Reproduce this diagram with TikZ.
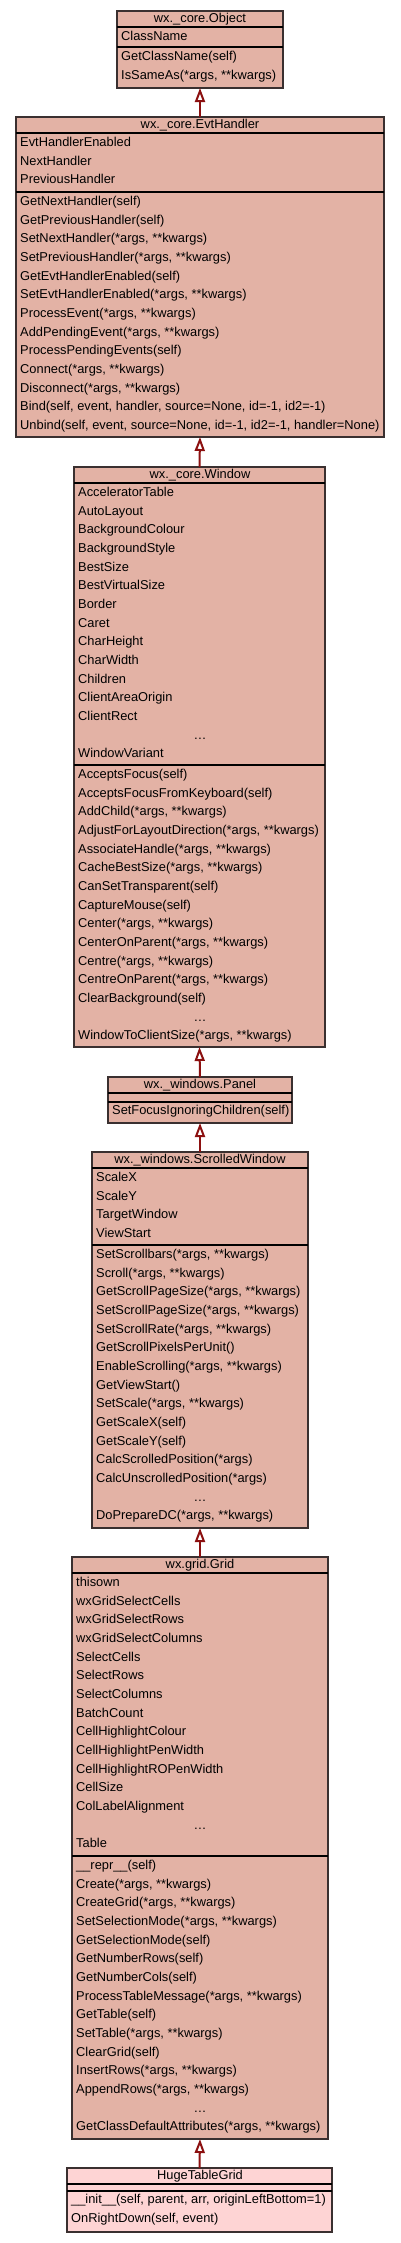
\documentclass[tikz,border=0pt]{standalone}
\usepackage{fontspec}
\setmainfont{Liberation Sans}
\usetikzlibrary{arrows.meta}
\definecolor{clsfill}{RGB}{227,178,165}
\definecolor{leaffill}{RGB}{254,212,212}
\definecolor{clsedge}{RGB}{58,48,48}
\definecolor{inhcol}{RGB}{140,16,16}
\newcommand\rowfont{\fontsize{12.85}{14}\selectfont}
\newcommand\rowsat[5]{%
  \foreach \t [count=\k from #4] in {#5}{%
    \node[rowtxt] (#1\k) at (#2, {#3+13.5+18.67*(\k-1)}) {\t};}}
\begin{document}
\begin{tikzpicture}[x=1pt,y=-1pt,
  cls/.style={draw=clsedge, line width=1.2pt, fill=clsfill, inner sep=0pt, outer sep=0pt, anchor=north},
  leaf/.style={cls, fill=leaffill},
  sepline/.style={black, line width=1.4pt},
  rowtxt/.style={anchor=base west, inner sep=0pt, font=\rowfont},
  titletxt/.style={anchor=base, inner sep=0pt, font=\rowfont},
  dotstxt/.style={anchor=base, inner sep=0pt, font=\rowfont},
  inh/.style={draw=inhcol, line width=2pt, -{Triangle[length=14pt, width=10pt, fill=white]}}]
\fill[white] (0,0) rectangle (400,2243);
\useasboundingbox (0,0) rectangle (400,2243);

% ---------- wx._core.Object
\node[cls, minimum width=166pt, minimum height=77pt] (obj) at (200,11) {};
\draw[sepline] (117,27) -- (283,27);
\draw[sepline] (117,47) -- (283,47);
\node[titletxt] (objT) at (200,22) {wx.\_core.Object};
\rowsat{objA}{121}{27}{1}{ClassName}
\rowsat{objM}{121}{47}{1}{GetClassName(self),{IsSameAs(*args, **kwargs)}}

% ---------- wx._core.EvtHandler
\node[cls, minimum width=368pt, minimum height=320pt] (evt) at (200,117) {};
\draw[sepline] (16,133) -- (384,133);
\draw[sepline] (16,192) -- (384,192);
\node[titletxt] (evtT) at (200,128) {wx.\_core.EvtHandler};
\rowsat{evtA}{20}{133}{1}{EvtHandlerEnabled,NextHandler,PreviousHandler}
\rowsat{evtM}{20}{192}{1}{GetNextHandler(self),GetPreviousHandler(self),{SetNextHandler(*args, **kwargs)},{SetPreviousHandler(*args, **kwargs)},GetEvtHandlerEnabled(self),{SetEvtHandlerEnabled(*args, **kwargs)},{ProcessEvent(*args, **kwargs)},{AddPendingEvent(*args, **kwargs)},ProcessPendingEvents(self),{Connect(*args, **kwargs)},{Disconnect(*args, **kwargs)},{Bind(self, event, handler, source=None, id=-1, id2=-1)},{Unbind(self, event, source=None, id=-1, id2=-1, handler=None)}}

% ---------- wx._core.Window
\node[cls, minimum width=251pt, minimum height=580pt] (win) at (199.5,467) {};
\draw[sepline] (74,483) -- (325,483);
\draw[sepline] (74,765) -- (325,765);
\node[titletxt] (winT) at (200,478) {wx.\_core.Window};
\rowsat{winA}{78}{483}{1}{AcceleratorTable,AutoLayout,BackgroundColour,BackgroundStyle,BestSize,BestVirtualSize,Border,Caret,CharHeight,CharWidth,Children,ClientAreaOrigin,ClientRect}
\node[dotstxt] (winAd) at (200,{483+13.5+18.67*13}) {…};
\rowsat{winA}{78}{483}{15}{WindowVariant}
\rowsat{winM}{78}{765}{1}{AcceptsFocus(self),AcceptsFocusFromKeyboard(self),{AddChild(*args, **kwargs)},{AdjustForLayoutDirection(*args, **kwargs)},{AssociateHandle(*args, **kwargs)},{CacheBestSize(*args, **kwargs)},CanSetTransparent(self),CaptureMouse(self),{Center(*args, **kwargs)},{CenterOnParent(*args, **kwargs)},{Centre(*args, **kwargs)},{CentreOnParent(*args, **kwargs)},ClearBackground(self)}
\node[dotstxt] (winMd) at (200,{765+13.5+18.67*13}) {…};
\rowsat{winM}{78}{765}{15}{{WindowToClientSize(*args, **kwargs)}}

% ---------- wx._windows.Panel
\node[cls, minimum width=184pt, minimum height=46pt] (pan) at (200,1077) {};
\draw[sepline] (108,1093) -- (292,1093);
\draw[sepline] (108,1102) -- (292,1102);
\node[titletxt] (panT) at (200,1088) {wx.\_windows.Panel};
\rowsat{panM}{112}{1101}{1}{SetFocusIgnoringChildren(self)}

% ---------- wx._windows.ScrolledWindow
\node[cls, minimum width=216pt, minimum height=376pt] (scr) at (200,1152) {};
\draw[sepline] (92,1168) -- (308,1168);
\draw[sepline] (92,1245) -- (308,1245);
\node[titletxt] (scrT) at (200,1163) {wx.\_windows.ScrolledWindow};
\rowsat{scrA}{96}{1168}{1}{ScaleX,ScaleY,TargetWindow,ViewStart}
\rowsat{scrM}{96}{1245}{1}{{SetScrollbars(*args, **kwargs)},{Scroll(*args, **kwargs)},{GetScrollPageSize(*args, **kwargs)},{SetScrollPageSize(*args, **kwargs)},{SetScrollRate(*args, **kwargs)},GetScrollPixelsPerUnit(),{EnableScrolling(*args, **kwargs)},GetViewStart(),{SetScale(*args, **kwargs)},GetScaleX(self),GetScaleY(self),CalcScrolledPosition(*args),CalcUnscrolledPosition(*args)}
\node[dotstxt] (scrMd) at (200,{1245+13.5+18.67*13}) {…};
\rowsat{scrM}{96}{1245}{15}{{DoPrepareDC(*args, **kwargs)}}

% ---------- wx.grid.Grid
\node[cls, minimum width=256pt, minimum height=582pt] (grd) at (200,1557) {};
\draw[sepline] (72,1573) -- (328,1573);
\draw[sepline] (72,1856) -- (328,1856);
\node[titletxt] (grdT) at (200,1568) {wx.grid.Grid};
\rowsat{grdA}{76}{1573}{1}{thisown,wxGridSelectCells,wxGridSelectRows,wxGridSelectColumns,SelectCells,SelectRows,SelectColumns,BatchCount,CellHighlightColour,CellHighlightPenWidth,CellHighlightROPenWidth,CellSize,ColLabelAlignment}
\node[dotstxt] (grdAd) at (200,{1573+13.5+18.67*13}) {…};
\rowsat{grdA}{76}{1573}{15}{Table}
\rowsat{grdM}{76}{1856}{1}{\_\_repr\_\_(self),{Create(*args, **kwargs)},{CreateGrid(*args, **kwargs)},{SetSelectionMode(*args, **kwargs)},GetSelectionMode(self),GetNumberRows(self),GetNumberCols(self),{ProcessTableMessage(*args, **kwargs)},GetTable(self),{SetTable(*args, **kwargs)},ClearGrid(self),{InsertRows(*args, **kwargs)},{AppendRows(*args, **kwargs)}}
\node[dotstxt] (grdMd) at (200,{1856+13.5+18.67*13}) {…};
\rowsat{grdM}{76}{1856}{15}{{GetClassDefaultAttributes(*args, **kwargs)}}

% ---------- HugeTableGrid
\node[leaf, minimum width=265pt, minimum height=64pt] (hug) at (199.5,2168) {};
\draw[sepline] (67,2184) -- (332,2184);
\draw[sepline] (67,2191) -- (332,2191);
\node[titletxt] (hugT) at (200,2179) {HugeTableGrid};
\rowsat{hugM}{71}{2190}{1}{{\_\_init\_\_(self, parent, arr, originLeftBottom=1)},{OnRightDown(self, event)}}

% ---------- inheritance
\draw[inh] (evt.north) -- (obj.south);
\draw[inh] (win.north) -- (evt.south);
\draw[inh] (pan.north) -- (win.south);
\draw[inh] (scr.north) -- (pan.south);
\draw[inh] (grd.north) -- (scr.south);
\draw[inh] (hug.north) -- (grd.south);
\end{tikzpicture}
\end{document}
